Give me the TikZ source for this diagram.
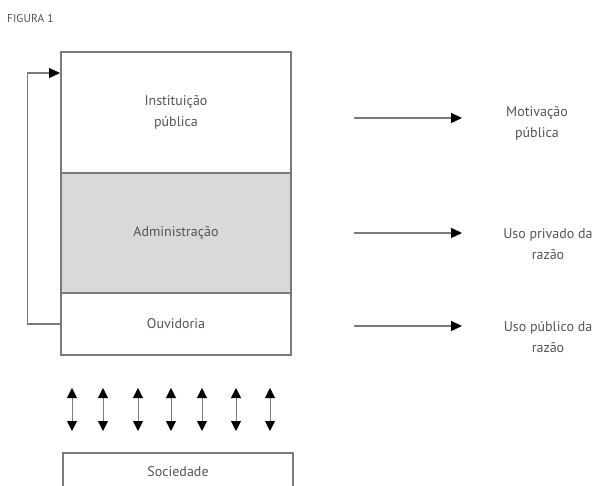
\documentclass[tikz,border=0pt]{standalone}
\usepackage{fontspec}
\setmainfont{PT Sans}
\usetikzlibrary{arrows.meta}
\definecolor{txt}{HTML}{555555}
\definecolor{ln}{HTML}{7A7A7A}
\definecolor{shade}{HTML}{D9D9D9}
\tikzset{
  part/.style={draw=ln, line width=1.1pt, minimum width=230pt, inner sep=0pt, text=txt, font=\fontsize{14}{21}\selectfont, align=center},
  lbl/.style={text=txt, font=\fontsize{14}{21}\selectfont, align=center, inner sep=1pt},
  arr/.style={draw=ln, line width=1.1pt, -{Triangle[length=11pt,width=10pt,color=black]}},
  darr/.style={draw=ln, line width=1pt, {Triangle[length=10pt,width=10pt,color=black]}-{Triangle[length=10pt,width=10pt,color=black]}}
}
\begin{document}
\begin{tikzpicture}[x=1pt,y=-1pt]
\useasboundingbox (0,0) rectangle (600,486);
\node[anchor=west, text=txt, font=\fontsize{11.5}{12}\selectfont, inner sep=0pt] (fig) at (7,18) {FIGURA 1};
\node[part, minimum height=121pt] (inst) at (176,112.5) {Instituição\\pública};
\node[part, minimum height=120pt, fill=shade] (adm) at (176,233) {Administração};
\node[part, minimum height=62pt] (ouv) at (176,324) {Ouvidoria};
\node[part, minimum height=48pt] (soc) at (178,477) {};
\node[lbl] at (178,472) (soct) {Sociedade};
\coordinate (fbend) at (60,73);
\draw[arr] (ouv.west) -- ++(-33,0) |- (fbend);
% right arrows and labels
\node[lbl] (mot) at (537,123) {Motivação\\pública};
\node[lbl] (upr) at (548,244) {Uso privado da\\razão};
\node[lbl] (upu) at (548,337) {Uso público da\\razão};
\coordinate (a1) at (354,118); \coordinate (b1) at (462,118);
\coordinate (a2) at (354,233); \coordinate (b2) at (462,233);
\coordinate (a3) at (354,326); \coordinate (b3) at (462,326);
\draw[arr] (a1) -- (b1);
\draw[arr] (a2) -- (b2);
\draw[arr] (a3) -- (b3);
% double arrows
\foreach \i/\x in {1/72,2/103,3/138,4/171,5/202,6/236,7/270}{
  \coordinate (u\i) at (\x,388);
  \coordinate (d\i) at (\x,431);
  \draw[darr] (u\i) -- (d\i);
}
\end{tikzpicture}
\end{document}
